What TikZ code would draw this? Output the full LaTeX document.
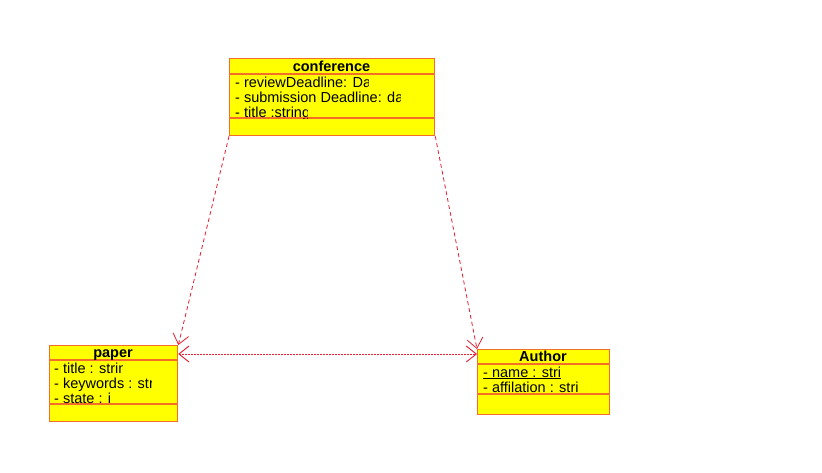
\documentclass[tikz,border=0pt]{standalone}
\usepackage{fontspec}
\setmainfont{Liberation Sans}
\usepackage{tikz}
\usetikzlibrary{arrows.meta, calc}

\definecolor{clsfill}{RGB}{255,255,0}
\definecolor{clsline}{RGB}{245,110,40}
\definecolor{depline}{RGB}{230,30,50}

\begin{document}
\begin{tikzpicture}[x=1pt, y=-1pt,
    cls/.style={draw=clsline, fill=clsfill, line width=1.3pt, inner sep=0pt, anchor=north west},
    sep/.style={draw=clsline, line width=1.3pt},
    ctitle/.style={font=\fontsize{14.5}{16}\selectfont\bfseries, anchor=base, inner sep=0pt},
    attr/.style={font=\fontsize{14.5}{16}\selectfont, anchor=base west, inner sep=0pt},
    dep/.style={depline, line width=0.8pt, dash pattern=on 4pt off 3pt, -{Straight Barb[length=10pt,width=16pt]}},
    assoc/.style={depline, line width=0.9pt, dash pattern=on 2pt off 1pt, {Straight Barb[length=10pt,width=16pt]}-{Straight Barb[length=10pt,width=16pt]}}
]
    \useasboundingbox[fill=white] (0,0) rectangle (822,472);

    % class conference
    \node[cls, minimum width=205pt, minimum height=77pt] (conference) at (229,58) {};
    \draw[sep] ([yshift=-16pt]conference.north west) -- ([yshift=-16pt]conference.north east);
    \draw[sep] ([yshift=-60pt]conference.north west) -- ([yshift=-60pt]conference.north east);
    \node[ctitle] (conftitle) at (331.5,71) {conference};
    \begin{scope}
        \clip (229,74) rectangle (368,118);
        \node[attr] (conf1) at (235,87) {- reviewDeadline: Da};
    \end{scope}
    \begin{scope}
        \clip (229,74) rectangle (400,118);
        \node[attr] (conf2) at (235,102) {- submission Deadline: da};
    \end{scope}
    \begin{scope}
        \clip (229,74) rectangle (307,118);
        \node[attr] (conf3) at (235,117) {- title :string};
    \end{scope}

    % class paper
    \node[cls, minimum width=128pt, minimum height=76pt] (paper) at (49,345) {};
    \draw[sep] ([yshift=-15pt]paper.north west) -- ([yshift=-15pt]paper.north east);
    \draw[sep] ([yshift=-59pt]paper.north west) -- ([yshift=-59pt]paper.north east);
    \node[ctitle] (papertitle) at (113,357) {paper};
    \begin{scope}
        \clip (49,360) rectangle (122,404);
        \node[attr] (paper1) at (54,373) {- title : string};
    \end{scope}
    \begin{scope}
        \clip (49,360) rectangle (151,404);
        \node[attr] (paper2) at (54,388) {- keywords : string};
    \end{scope}
    \begin{scope}
        \clip (49,360) rectangle (110,404);
        \node[attr] (paper3) at (54,403) {- state : int};
    \end{scope}

    % class Author
    \node[cls, minimum width=132pt, minimum height=65pt] (author) at (477,349) {};
    \draw[sep] ([yshift=-15pt]author.north west) -- ([yshift=-15pt]author.north east);
    \draw[sep] ([yshift=-45pt]author.north west) -- ([yshift=-45pt]author.north east);
    \node[ctitle] (authortitle) at (543,361) {Author};
    \begin{scope}
        \clip (477,364) rectangle (564,394);
        \node[attr] (author1) at (483,377) {\underline{- name : stri}};
    \end{scope}
    \begin{scope}
        \clip (477,364) rectangle (582,394);
        \node[attr] (author2) at (483,392) {- affilation : stri};
    \end{scope}

    % connectors
    \draw[dep] (conference.south west) -- (paper.north east);
    \draw[dep] (conference.south east) -- (author.north west);
    \coordinate (pa) at ($(paper.north east)+(0,9)$);
    \draw[assoc] (pa) -- (pa -| author.west);

\end{tikzpicture}
\end{document}
